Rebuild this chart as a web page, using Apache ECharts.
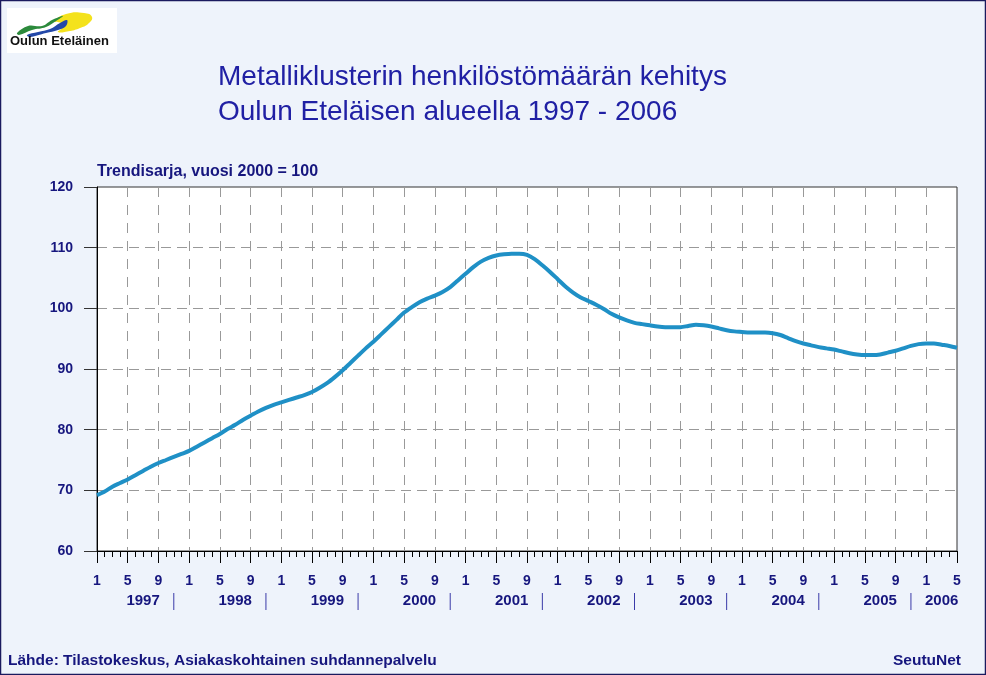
<!DOCTYPE html>
<html>
<head>
<meta charset="utf-8">
<script src="https://cdn.jsdelivr.net/npm/echarts@6/dist/echarts.min.js"></script>
<style>
  html, body { margin: 0; padding: 0; background: #eef3fb; }
  #main { width: 986px; height: 675px; }
</style>
</head>
<body>
<div id="main"></div>
<script>
// vuodet ja kuukaudet (1997-1 ... 2006-5)
var years = [1997, 1998, 1999, 2000, 2001, 2002, 2003, 2004, 2005, 2006];
var lastMonth2006 = 5;

// trendisarja, kuukausittain, luettu kuvasta
var trend1997 = [69.2, 69.8, 70.6, 71.2, 71.8, 72.5, 73.2, 73.9, 74.5, 75.0, 75.5, 76.0];
var trend1998 = [76.5, 77.2, 77.9, 78.6, 79.3, 80.1, 80.8, 81.6, 82.3, 83.0, 83.6, 84.1];
var trend1999 = [84.5, 84.9, 85.3, 85.7, 86.2, 86.9, 87.7, 88.7, 89.8, 91.0, 92.2, 93.4];
var trend2000 = [94.5, 95.7, 96.9, 98.1, 99.3, 100.2, 101.0, 101.6, 102.1, 102.7, 103.5, 104.6];
var trend2001 = [105.7, 106.8, 107.7, 108.3, 108.7, 108.9, 109.0, 109.0, 108.8, 108.1, 107.1, 106.0];
var trend2002 = [104.8, 103.6, 102.6, 101.8, 101.2, 100.6, 99.9, 99.1, 98.5, 98.0, 97.6, 97.4];
var trend2003 = [97.2, 97.0, 96.9, 96.9, 96.9, 97.1, 97.3, 97.2, 97.0, 96.7, 96.4, 96.2];
var trend2004 = [96.1, 96.0, 96.0, 96.0, 95.9, 95.6, 95.1, 94.6, 94.2, 93.9, 93.6, 93.4];
var trend2005 = [93.2, 92.9, 92.6, 92.4, 92.3, 92.3, 92.4, 92.7, 93.0, 93.4, 93.8, 94.1];
var trend2006 = [94.2, 94.2, 94.0, 93.8, 93.5];

var yTicks = { min: 60, max: 120, step: 10 };

var months = [];
years.forEach(function (y) {
  var n = y === 2006 ? lastMonth2006 : 12;
  for (var m = 1; m <= n; m++) months.push(y + "-" + m);
});
var trend = [].concat(trend1997, trend1998, trend1999, trend2000, trend2001,
  trend2002, trend2003, trend2004, trend2005, trend2006);

var navy = "#16167e";
var monthOf = function (v) { return +String(v).split("-")[1]; };
var yearOf = function (v) { return String(v).split("-")[0]; };
var isMajor = function (i, v) { return (monthOf(v) - 1) % 4 === 0; };

var chart = echarts.init(document.getElementById("main"));

chart.setOption({
  backgroundColor: "#eef3fb",
  animation: false,
  title: {
    text: "Metalliklusterin henkilöstömäärän kehitys\nOulun Eteläisen alueella 1997 - 2006",
    left: 213,
    top: 55,
    textStyle: {
      color: "#2020a4",
      fontFamily: "Liberation Sans",
      fontSize: 28,
      fontWeight: "normal",
      lineHeight: 35
    }
  },
  grid: {
    left: 97,
    right: 29,
    top: 187,
    bottom: 124,
    show: true,
    backgroundColor: "#ffffff",
    borderColor: "#333",
    borderWidth: 1
  },
  xAxis: [
    {
      type: "category",
      data: months,
      boundaryGap: false,
      axisLine: { lineStyle: { color: "#000", width: 1 } },
      axisTick: { interval: 0, length: 6, lineStyle: { color: "#000" } },
      axisLabel: {
        interval: isMajor,
        formatter: function (v) { return String(monthOf(v)); },
        color: navy,
        fontFamily: "Liberation Sans",
        fontWeight: "bold",
        fontSize: 14,
        margin: 23
      },
      splitLine: {
        show: true,
        interval: function (i, v) { return isMajor(i, v) && i > 0 && i < months.length - 1; },
        lineStyle: { color: "#999", type: [10, 8], width: 1 }
      }
    },
    {
      type: "category",
      data: months,
      boundaryGap: false,
      position: "bottom",
      axisLine: { show: false },
      axisTick: { interval: isMajor, length: 12, lineStyle: { color: "#000" } },
      axisLabel: {
        interval: function (i, v) {
          var m = monthOf(v);
          if (yearOf(v) === "2006") return m === 3;
          return m === 7 || m === 11;
        },
        formatter: function (v) {
          var m = monthOf(v);
          if (m === 11) return "{s|}";
          return yearOf(v);
        },
        rich: {
          s: { width: 1, height: 17, backgroundColor: "#3a3aa8" }
        },
        color: navy,
        fontFamily: "Liberation Sans",
        fontWeight: "bold",
        fontSize: 15,
        margin: 42
      },
      splitLine: { show: false }
    }
  ],
  yAxis: {
    type: "value",
    min: yTicks.min,
    max: yTicks.max,
    interval: yTicks.step,
    axisLine: { show: true, lineStyle: { color: "#000" } },
    axisTick: { show: true, length: 13, lineStyle: { color: "#333" } },
    axisLabel: {
      color: navy,
      fontFamily: "Liberation Sans",
      fontWeight: "bold",
      fontSize: 14,
      margin: 24
    },
    splitLine: {
      show: true,
      showMinLine: false,
      showMaxLine: false,
      lineStyle: { color: "#999", type: [10, 6], width: 1 }
    }
  },
  series: [
    {
      type: "line",
      data: trend,
      smooth: 0.3,
      symbol: "none",
      lineStyle: { color: "#1f90c6", width: 4 },
      z: 5
    }
  ],
  graphic: [
    // kehys
    {
      type: "rect",
      shape: { x: 0.5, y: 0.5, width: 985, height: 674 },
      style: { fill: "transparent", stroke: "#1a1a5e", lineWidth: 1.5 },
      silent: true
    },
    // logo
    { type: "rect", shape: { x: 7, y: 8, width: 110, height: 45 }, style: { fill: "#fff" } },
    {
      type: "polygon",
      shape: { points: [[55, 21], [66, 14], [84, 13], [92, 17], [88, 24], [80, 28], [70, 31], [58, 32], [63, 27], [61, 23]], smooth: 0.5 },
      style: { fill: "#f4e21c" }
    },
    {
      type: "polygon",
      shape: { points: [[17, 33], [28, 26], [42, 26], [52, 20], [63, 16], [56, 21], [46, 27], [32, 30], [19, 35]], smooth: 0.4 },
      style: { fill: "#2c8a3c" }
    },
    {
      type: "polygon",
      shape: { points: [[27, 35], [38, 32], [50, 29], [60, 23], [67, 20], [66, 26], [58, 30], [46, 33], [30, 37]], smooth: 0.4 },
      style: { fill: "#2348a8" }
    },
    {
      type: "text",
      left: 10,
      top: 35,
      style: { text: "Oulun Eteläinen", fill: "#111", font: "bold 13px 'Liberation Sans'" }
    },
    // alaotsikko
    {
      type: "text",
      left: 97,
      top: 164,
      style: { text: "Trendisarja, vuosi 2000 = 100", fill: navy, font: "bold 16px 'Liberation Sans'" }
    },
    // lähde
    {
      type: "text",
      left: 8,
      top: 653,
      style: { text: "Lähde: Tilastokeskus, Asiakaskohtainen suhdannepalvelu", fill: navy, font: "bold 15.5px 'Liberation Sans'" }
    },
    {
      type: "text",
      right: 25,
      top: 653,
      style: { text: "SeutuNet", fill: navy, font: "bold 15.5px 'Liberation Sans'" }
    }
  ]
});
</script>
</body>
</html>
